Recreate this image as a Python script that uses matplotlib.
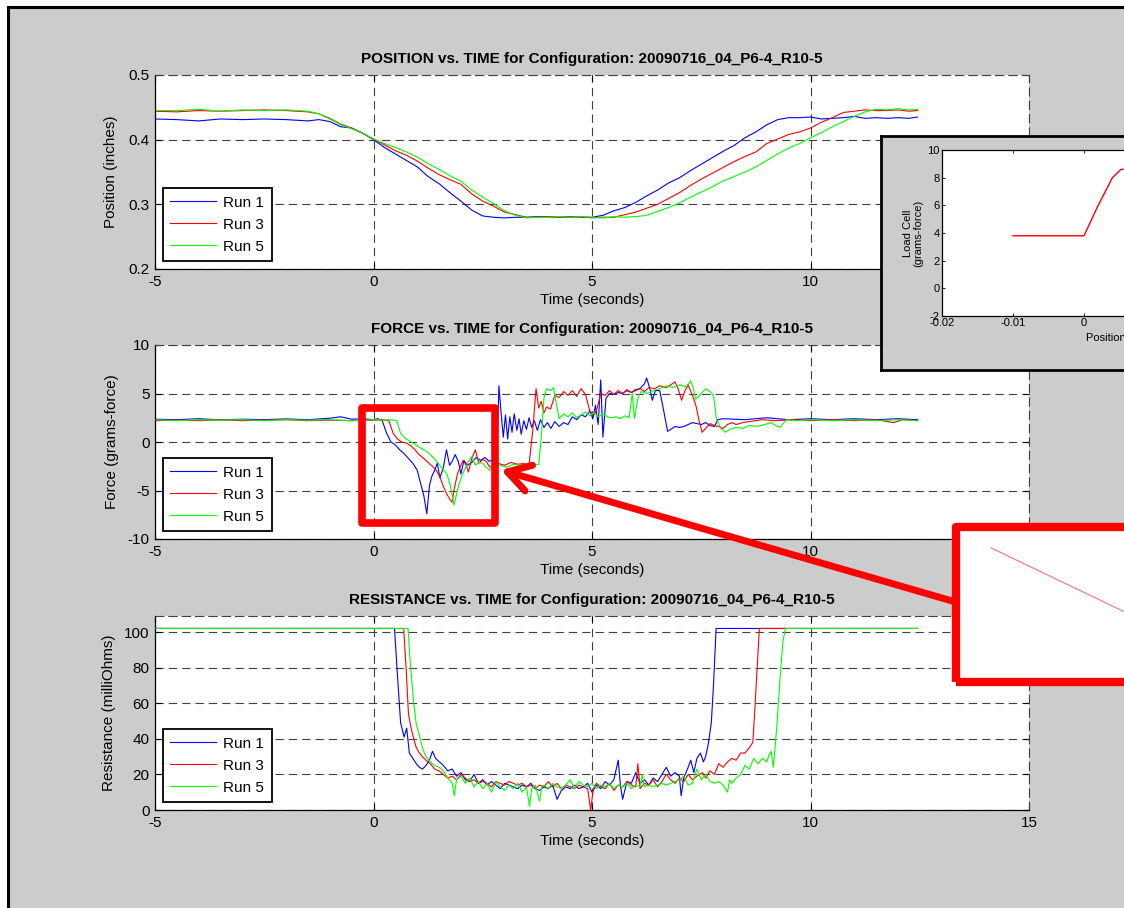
import numpy as np
import matplotlib
matplotlib.use("Agg")
import matplotlib.pyplot as plt
from matplotlib.patches import Rectangle, FancyArrowPatch
from matplotlib.ticker import FormatStrFormatter

plt.rcParams['font.family'] = ['Liberation Sans', 'DejaVu Sans']
plt.rcParams['axes.unicode_minus'] = False
plt.rcParams['lines.scale_dashes'] = False

config = "20090716_04_P6-4_R10-5"
run_labels = ["Run 1", "Run 3", "Run 5"]
run_colors = ["#0000ff", "#ff0000", "#00ff00"]

# ---- position vs time (inches) ----
pos_time = [-5.0, -4.5, -4.0, -3.5, -3.0, -2.5, -2.0, -1.5, -1.25, -1.0, -0.75, -0.5, -0.25,
            0.0, 0.25, 0.5, 0.75, 1.0, 1.25, 1.5, 1.75, 2.0, 2.25, 2.5, 2.75, 3.0, 3.25, 3.5,
            3.75, 4.0, 4.25, 4.5, 4.75, 5.0, 5.25, 5.5, 5.75, 6.0, 6.25, 6.5, 6.75, 7.0, 7.25,
            7.5, 7.75, 8.0, 8.25, 8.5, 8.75, 9.0, 9.25, 9.5, 9.75, 10.0, 10.25, 10.5, 10.75,
            11.0, 11.25, 11.5, 11.75, 12.0, 12.25, 12.45]
pos_run1 = [0.432, 0.431, 0.429, 0.432, 0.431, 0.432, 0.431, 0.429, 0.431, 0.428, 0.420, 0.418, 0.410,
            0.400, 0.388, 0.378, 0.368, 0.358, 0.343, 0.332, 0.318, 0.305, 0.291, 0.282, 0.280, 0.279,
            0.280, 0.280, 0.281, 0.281, 0.280, 0.281, 0.280, 0.280, 0.283, 0.290, 0.295, 0.303, 0.313,
            0.322, 0.333, 0.341, 0.352, 0.362, 0.372, 0.382, 0.391, 0.403, 0.412, 0.423, 0.431, 0.434,
            0.434, 0.435, 0.432, 0.433, 0.434, 0.436, 0.433, 0.434, 0.433, 0.434, 0.433, 0.435]
pos_run3 = [0.444, 0.443, 0.445, 0.444, 0.445, 0.446, 0.445, 0.443, 0.440, 0.433, 0.424, 0.418, 0.410,
            0.401, 0.392, 0.383, 0.376, 0.367, 0.356, 0.346, 0.338, 0.331, 0.316, 0.305, 0.297, 0.288,
            0.284, 0.280, 0.280, 0.281, 0.280, 0.280, 0.281, 0.279, 0.280, 0.280, 0.284, 0.288, 0.294,
            0.300, 0.309, 0.318, 0.329, 0.339, 0.348, 0.357, 0.366, 0.374, 0.381, 0.394, 0.401, 0.408,
            0.412, 0.418, 0.427, 0.434, 0.442, 0.444, 0.446, 0.445, 0.445, 0.446, 0.444, 0.445]
pos_run5 = [0.445, 0.445, 0.447, 0.444, 0.446, 0.445, 0.446, 0.444, 0.440, 0.432, 0.423, 0.417, 0.410,
            0.401, 0.394, 0.388, 0.381, 0.373, 0.363, 0.354, 0.344, 0.336, 0.322, 0.311, 0.301, 0.290,
            0.283, 0.279, 0.280, 0.280, 0.281, 0.280, 0.281, 0.280, 0.279, 0.281, 0.280, 0.281, 0.283,
            0.289, 0.295, 0.302, 0.311, 0.319, 0.327, 0.336, 0.343, 0.350, 0.358, 0.368, 0.378, 0.387,
            0.394, 0.403, 0.411, 0.420, 0.428, 0.436, 0.443, 0.447, 0.446, 0.448, 0.446, 0.447]

# ---- force vs time (grams-force) ----
force_t1 = [-5.0, -4.5, -4.0, -3.5, -3.0, -2.5, -2.0, -1.5, -1.0, -0.75, -0.5, -0.25, 0.0, 0.1, 0.2,
            0.3, 0.4, 0.5, 0.6, 0.7, 0.8, 0.9, 1.0, 1.08, 1.15, 1.22, 1.28, 1.33, 1.4, 1.46, 1.52,
            1.6, 1.67, 1.74, 1.8, 1.87, 1.94, 2.0, 2.07, 2.15, 2.25, 2.35, 2.45, 2.55, 2.65, 2.75,
            2.82, 2.87, 2.92, 2.97, 3.02, 3.07, 3.12, 3.17, 3.22, 3.28, 3.33, 3.38, 3.44, 3.5, 3.56,
            3.62, 3.68, 3.75, 3.82, 3.9, 3.98, 4.06, 4.15, 4.25, 4.35, 4.45, 4.55, 4.65, 4.75, 4.85,
            4.95, 5.02, 5.08, 5.14, 5.2, 5.25, 5.32, 5.4, 5.5, 5.6, 5.7, 5.8, 5.9, 6.0, 6.1, 6.2,
            6.25, 6.33, 6.38, 6.45, 6.55, 6.65, 6.73, 6.8, 6.9, 7.0, 7.1, 7.2, 7.3, 7.4, 7.5, 7.6,
            7.7, 7.8, 7.88, 8.0, 8.5, 9.0, 9.5, 10.0, 10.5, 11.0, 11.5, 12.0, 12.45]
force_run1 = [2.35, 2.30, 2.40, 2.28, 2.35, 2.30, 2.38, 2.30, 2.45, 2.6, 2.35, 2.4, 2.3, 2.4, 2.2,
              0.9, 0.0, -0.3, -0.8, -1.2, -1.7, -2.2, -2.9, -4.3, -5.5, -7.4, -4.5, -3.6, -2.9, -2.2, -3.7,
              -2.6, -0.8, -2.4, -2.0, -1.3, -2.0, -3.3, -1.9, -2.4, -2.1, -1.6, -1.9, -1.6, -2.0, -1.8,
              -1.9, 5.8, 3.0, 0.5, 2.8, 0.3, 2.6, 1.0, 2.9, 1.2, 2.4, 0.8, 2.2, 1.3, 2.5,
              1.5, 2.2, 1.2, 2.3, 1.5, 2.0, 1.4, 2.1, 1.6, 2.0, 1.8, 2.6, 2.3, 2.8, 2.6,
              3.2, 2.4, 3.8, 1.8, 6.4, 0.5, 4.5, 5.0, 4.9, 5.1, 5.0, 5.3, 5.1, 5.4, 5.5, 6.0,
              6.6, 5.4, 4.3, 5.3, 5.3, 3.0, 1.1, 1.3, 1.6, 1.5, 1.6, 1.8, 2.0, 1.9, 1.8, 2.0,
              1.7, 1.6, 2.3, 2.4, 2.3, 2.5, 2.3, 2.4, 2.3, 2.4, 2.3, 2.4, 2.3]
force_t3 = [-5.0, -4.5, -4.0, -3.5, -3.0, -2.5, -2.0, -1.5, -1.0, -0.5, 0.0, 0.2, 0.35, 0.45, 0.55,
            0.65, 0.75, 0.86, 0.95, 1.02, 1.15, 1.27, 1.35, 1.43, 1.52, 1.6, 1.68, 1.76, 1.8, 1.84,
            1.92, 2.0, 2.05, 2.12, 2.17, 2.25, 2.33, 2.41, 2.5, 2.58, 2.66, 2.74, 2.85, 3.0, 3.15,
            3.3, 3.45, 3.56, 3.64, 3.72, 3.78, 3.84, 3.9, 3.96, 4.05, 4.15, 4.25, 4.35, 4.45, 4.55,
            4.65, 4.75, 4.85, 4.95, 5.05, 5.12, 5.2, 5.3, 5.4, 5.5, 5.6, 5.7, 5.8, 5.9, 6.0, 6.1,
            6.2, 6.3, 6.43, 6.55, 6.7, 6.8, 6.9, 6.97, 7.05, 7.12, 7.2, 7.3, 7.38, 7.45, 7.52, 7.6,
            7.7, 7.8, 7.9, 8.0, 8.1, 8.2, 8.3, 8.45, 8.6, 8.75, 8.9, 9.2, 9.6, 10.0, 10.5, 11.0,
            11.5, 11.9, 12.1, 12.45]
force_run3 = [2.2, 2.25, 2.2, 2.3, 2.2, 2.25, 2.3, 2.2, 2.25, 2.2, 2.25, 2.3, 2.2, 0.9, 0.3,
              0.0, -0.1, -0.4, -0.8, -1.2, -1.7, -2.2, -2.5, -2.9, -3.6, -4.6, -5.4, -6.0, -6.2, -5.0,
              -3.3, -2.4, -1.9, -2.4, -3.1, -1.7, -0.8, -2.2, -1.8, -2.0, -2.6, -2.5, -2.2, -2.4, -2.1,
              -2.3, -2.2, -2.3, 1.0, 5.5, 3.5, 4.2, 3.0, 3.6, 3.4, 4.8, 4.6, 5.2, 4.8, 5.3,
              4.7, 5.5, 4.9, 3.2, 2.8, 3.5, 5.0, 4.8, 5.3, 4.9, 5.3, 5.0, 5.4, 5.1, 5.3, 5.5,
              5.2, 5.6, 5.5, 5.8, 5.6, 5.9, 6.2, 5.5, 4.3, 5.2, 5.9, 4.8, 3.7, 2.2, 1.0, 1.4,
              1.9, 1.7, 1.6, 1.4, 1.8, 2.0, 1.8, 2.0, 2.1, 2.2, 2.3, 2.2, 2.3, 2.2, 2.3, 2.2,
              2.3, 2.0, 2.3, 2.2]
force_t5 = [-5.0, -4.5, -4.0, -3.5, -3.0, -2.5, -2.0, -1.5, -1.0, -0.5, 0.0, 0.2, 0.4, 0.53, 0.62,
            0.72, 0.86, 1.0, 1.19, 1.3, 1.43, 1.55, 1.68, 1.76, 1.84, 1.9, 1.96, 2.03, 2.09, 2.17,
            2.25, 2.33, 2.42, 2.5, 2.58, 2.66, 2.75, 2.9, 3.05, 3.2, 3.35, 3.5, 3.65, 3.78, 3.84,
            3.9, 3.96, 4.05, 4.12, 4.18, 4.25, 4.35, 4.45, 4.55, 4.65, 4.75, 4.85, 4.95, 5.05, 5.15,
            5.25, 5.35, 5.45, 5.55, 5.65, 5.75, 5.85, 5.92, 5.97, 6.05, 6.12, 6.25, 6.4, 6.55, 6.7,
            6.85, 7.0, 7.15, 7.26, 7.32, 7.37, 7.5, 7.6, 7.7, 7.78, 7.85, 7.95, 8.05, 8.15, 8.3,
            8.45, 8.6, 8.78, 8.95, 9.1, 9.2, 9.3, 9.45, 9.7, 10.0, 10.5, 11.0, 11.5, 12.0, 12.45]
force_run5 = [2.3, 2.2, 2.3, 2.25, 2.3, 2.2, 2.3, 2.25, 2.3, 2.2, 2.3, 2.25, 2.3, 2.2, 0.9,
              0.4, 0.0, -0.4, -0.9, -1.3, -1.9, -2.6, -3.3, -4.5, -6.5, -5.4, -4.3, -3.4, -2.8, -2.0,
              -1.5, -2.4, -2.1, -2.2, -2.6, -2.9, -2.5, -2.4, -2.6, -2.3, -2.4, -2.2, -2.4, -2.3, 0.5,
              4.5, 5.5, 5.3, 5.6, 4.0, 2.4, 2.9, 2.6, 3.0, 2.5, 2.8, 3.1, 2.7, 3.0, 2.6,
              2.9, 2.6, 2.5, 2.6, 2.4, 2.7, 2.5, 5.0, 2.4, 4.5, 5.2, 5.0, 5.3, 5.5, 5.8,
              5.6, 5.9, 5.7, 6.3, 5.5, 4.4, 5.0, 5.5, 5.2, 4.8, 2.3, 1.4, 1.0, 1.3, 1.5,
              1.4, 1.7, 1.6, 1.8, 2.0, 1.7, 1.5, 2.3, 2.2, 2.3, 2.2, 2.3, 2.2, 2.3, 2.2]

# ---- resistance vs time (milliOhms) ----
res_t1 = [-5.0, 0.48, 0.55, 0.62, 0.7, 0.76, 0.82, 0.9, 0.98, 1.05, 1.12, 1.2, 1.28, 1.35, 1.42,
          1.51, 1.6, 1.7, 1.8, 1.9, 2.0, 2.1, 2.2, 2.3, 2.4, 2.5, 2.6, 2.7, 2.8, 2.9, 3.0, 3.1,
          3.2, 3.3, 3.4, 3.5, 3.6, 3.7, 3.8, 3.9, 4.0, 4.1, 4.2, 4.3, 4.4, 4.5, 4.6, 4.7, 4.8,
          4.9, 5.0, 5.1, 5.2, 5.3, 5.4, 5.5, 5.6, 5.65, 5.7, 5.8, 5.9, 6.0, 6.1, 6.2, 6.3, 6.4,
          6.5, 6.6, 6.7, 6.8, 6.9, 7.0, 7.04, 7.1, 7.2, 7.26, 7.33, 7.4, 7.48, 7.55, 7.6, 7.66,
          7.73, 7.78, 7.84, 12.45]
res_run1 = [102, 102, 75, 49, 41, 46, 32, 29, 26, 24, 23, 25, 28, 33, 29,
            27, 25, 22, 23, 19, 21, 17, 16, 20, 15, 17, 14, 16, 14, 12, 15, 14,
            13, 12, 14, 13, 15, 12, 11, 13, 12, 14, 6, 11, 13, 12, 14, 12, 13,
            15, 10, 14, 12, 16, 14, 17, 28, 14, 6, 16, 15, 21, 15, 17, 14, 18,
            16, 20, 24, 19, 21, 19, 8, 18, 24, 28, 21, 29, 32, 27, 30, 37,
            49, 70, 102, 102]
res_t3 = [-5.0, 0.69, 0.75, 0.8, 0.86, 0.92, 0.98, 1.05, 1.12, 1.2, 1.3, 1.4, 1.5, 1.6, 1.7,
          1.8, 1.9, 2.0, 2.1, 2.2, 2.3, 2.4, 2.5, 2.6, 2.7, 2.8, 2.9, 3.0, 3.1, 3.2, 3.3, 3.4,
          3.5, 3.6, 3.7, 3.8, 3.9, 4.0, 4.1, 4.2, 4.3, 4.4, 4.5, 4.6, 4.7, 4.8, 4.9, 4.97, 5.03,
          5.1, 5.2, 5.3, 5.4, 5.5, 5.6, 5.7, 5.8, 5.9, 6.0, 6.05, 6.1, 6.2, 6.3, 6.4, 6.5, 6.6,
          6.7, 6.8, 6.9, 7.0, 7.1, 7.2, 7.3, 7.4, 7.53, 7.6, 7.7, 7.8, 7.9, 8.0, 8.1, 8.2, 8.3,
          8.4, 8.5, 8.6, 8.68, 8.72, 8.78, 8.83, 12.45]
res_run3 = [102, 102, 78, 54, 46, 40, 35, 32, 30, 28, 26, 23, 22, 20, 18,
            19, 17, 20, 18, 16, 17, 15, 16, 15, 13, 16, 15, 14, 16, 15, 14, 15,
            13, 14, 12, 14, 13, 16, 13, 15, 12, 14, 13, 12, 14, 13, 12, 0, 12,
            15, 13, 12, 15, 11, 14, 13, 16, 14, 13, 26, 12, 15, 14, 17, 13, 16,
            20, 17, 15, 18, 16, 20, 17, 19, 21, 18, 22, 20, 26, 24, 27, 29, 28,
            32, 32, 35, 38, 54, 80, 102, 102]
res_t5 = [-5.0, 0.79, 0.85, 0.92, 0.98, 1.05, 1.13, 1.2, 1.3, 1.4, 1.5, 1.6, 1.7, 1.8, 1.85,
          1.9, 2.0, 2.1, 2.2, 2.3, 2.4, 2.5, 2.6, 2.7, 2.8, 2.9, 3.0, 3.1, 3.2, 3.3, 3.4, 3.5,
          3.57, 3.62, 3.7, 3.8, 3.85, 3.9, 4.0, 4.1, 4.2, 4.3, 4.4, 4.5, 4.6, 4.7, 4.8, 4.9, 5.0,
          5.1, 5.2, 5.3, 5.4, 5.5, 5.6, 5.7, 5.8, 5.9, 6.0, 6.1, 6.15, 6.2, 6.3, 6.4, 6.5, 6.6,
          6.7, 6.8, 6.9, 7.0, 7.1, 7.2, 7.3, 7.4, 7.5, 7.6, 7.7, 7.8, 7.9, 8.0, 8.1, 8.15, 8.2,
          8.3, 8.4, 8.5, 8.6, 8.7, 8.8, 8.9, 9.0, 9.05, 9.1, 9.15, 9.23, 9.3, 9.37, 9.43, 12.45]
res_run5 = [102, 102, 80, 60, 48, 42, 34, 30, 27, 25, 24, 22, 18, 15, 8,
            17, 19, 15, 18, 13, 16, 12, 15, 10, 16, 13, 11, 14, 12, 15, 10, 13,
            2, 12, 14, 5, 13, 14, 12, 15, 13, 12, 14, 17, 12, 16, 14, 13, 15,
            12, 14, 13, 15, 12, 14, 13, 15, 12, 14, 13, 20, 13, 14, 13, 14, 15,
            14, 15, 16, 17, 19, 14, 15, 23, 17, 20, 16, 15, 16, 14, 10, 17, 15,
            18, 20, 25, 23, 29, 26, 29, 27, 31, 33, 24, 47, 73, 95, 102, 102]

# ---- inset: load cell vs position ----
load_pos = [-0.01, -0.005, 0.0, 0.001, 0.002, 0.003, 0.004, 0.0052, 0.006, 0.008, 0.01]
load_force = [3.8, 3.8, 3.8, 4.9, 6.0, 7.0, 8.0, 8.6, 8.6, 8.6, 8.6]

# magnified detail shown in the red call-out box (box-relative units)
detail_x = [0.102, 0.53]
detail_y = [0.865, 0.41]

W, H = 1124, 908
GRAY = '#cccccc'
DASH = (0, (6, 3.6))


def fx(px):
    return px / W


def fy(py):
    return 1 - py / H


def style_axes(ax, ylabel, title, ylab_x):
    ax.set_xlim(-5, 15)
    ax.set_xticks([-5, 0, 5, 10, 15])
    ax.set_facecolor('white')
    ax.grid(True, color='0.25', linestyle=DASH, linewidth=0.8)
    ax.tick_params(direction='in', length=4, width=0.8, labelsize=11,
                   top=True, right=True, pad=4, colors='black')
    for side in ['left', 'bottom']:
        ax.spines[side].set_linewidth(0.9)
    for side in ['top', 'right']:
        ax.spines[side].set_linestyle(DASH)
        ax.spines[side].set_color('0.25')
        ax.spines[side].set_linewidth(0.8)
    ax.set_title(title, fontsize=11, fontweight='bold', pad=8.5)
    ax.set_xlabel("Time (seconds)", fontsize=11)
    ax.xaxis.set_label_coords(0.5, -0.125)
    ax.set_ylabel(ylabel, fontsize=11)
    ax.yaxis.set_label_coords(ylab_x, 0.5)
    ax.yaxis.set_major_formatter(FormatStrFormatter('%g'))
    leg = ax.legend(loc='lower left', fontsize=11, frameon=True, fancybox=False,
                    edgecolor='black', framealpha=1, handlelength=3,
                    handletextpad=0.45, borderpad=0.5, borderaxespad=0.5,
                    labelspacing=0.52)
    leg.get_frame().set_linewidth(1.3)


fig = plt.figure(figsize=(W / 100, H / 100), dpi=100, facecolor='white')
fig.add_artist(Rectangle((fx(7.5), fy(1000)), (1300 - 7.5) / W, (1000 - 7.5) / H,
                         transform=fig.transFigure, facecolor=GRAY, edgecolor='black',
                         lw=2.2, zorder=-1))

left, width, height = fx(155), 874 / W, 194 / H

ax1 = fig.add_axes([left, fy(269), width, height])
for vals, lab, col in zip([pos_run1, pos_run3, pos_run5], run_labels, run_colors):
    ax1.plot(pos_time, vals, color=col, lw=0.8, label=lab)
ax1.set_ylim(0.2, 0.5)
ax1.set_yticks([0.2, 0.3, 0.4, 0.5])
style_axes(ax1, "Position (inches)", "POSITION vs. TIME for Configuration: " + config, -0.042)

ax2 = fig.add_axes([left, fy(539), width, height])
for t, vals, lab, col in zip([force_t1, force_t3, force_t5], [force_run1, force_run3, force_run5],
                             run_labels, run_colors):
    ax2.plot(t, vals, color=col, lw=0.8, label=lab)
ax2.set_ylim(-10, 10)
ax2.set_yticks([-10, -5, 0, 5, 10])
style_axes(ax2, "Force (grams-force)", "FORCE vs. TIME for Configuration: " + config, -0.041)

ax3 = fig.add_axes([left, fy(810), width, height])
for t, vals, lab, col in zip([res_t1, res_t3, res_t5], [res_run1, res_run3, res_run5],
                             run_labels, run_colors):
    ax3.plot(t, vals, color=col, lw=0.8, label=lab)
ax3.set_ylim(0, 109)
ax3.set_yticks([0, 20, 40, 60, 80, 100])
style_axes(ax3, "Resistance (milliOhms)", "RESISTANCE vs. TIME for Configuration: " + config, -0.045)

# inset panel with load cell plot
panel = fig.add_axes([fx(881), fy(370), (1300 - 881) / W, (370 - 136) / H], zorder=5)
panel.set_facecolor(GRAY)
panel.set_xticks([])
panel.set_yticks([])
for s in panel.spines.values():
    s.set_linewidth(2)
    s.set_color('black')

inset = fig.add_axes([fx(942), fy(316), 355 / W, 166 / H], zorder=6)
inset.plot(load_pos, load_force, color='red', lw=1)
inset.set_xlim(-0.02, 0.03)
inset.set_ylim(-2, 10)
inset.set_xticks([-0.02, -0.01, 0, 0.01, 0.02, 0.03])
inset.set_yticks([-2, 0, 2, 4, 6, 8, 10])
inset.xaxis.set_major_formatter(FormatStrFormatter('%g'))
inset.tick_params(direction='in', length=2, width=0.6, labelsize=8, top=True, right=True, pad=1.5)
inset.set_xlabel("Position (inches)", fontsize=8, labelpad=2)
inset.xaxis.set_label_coords(0.5 + 8 / 355, -0.1)
inset.set_ylabel("Load Cell\n(grams-force)", fontsize=8, linespacing=1.0, labelpad=3)
for s in inset.spines.values():
    s.set_linewidth(0.9)

# highlight box and arrow on the force plot
fig.add_artist(Rectangle((fx(362), fy(523)), (494.7 - 362) / W, (523 - 408) / H,
                         transform=fig.transFigure, fill=False, edgecolor='red',
                         lw=5.5, joinstyle='round', zorder=3))
fig.add_artist(FancyArrowPatch(posA=(fx(990), fy(612)), posB=(fx(501), fy(470)),
                               transform=fig.transFigure,
                               arrowstyle='->,head_length=0.4,head_width=0.24',
                               mutation_scale=40, lw=5, color='red',
                               shrinkA=0, shrinkB=0, zorder=3))

# call-out box with magnified detail
detail = fig.add_axes([fx(956), fy(682), (1300 - 956) / W, (682 - 527) / H], zorder=7)
detail.set_facecolor('white')
detail.set_xticks([])
detail.set_yticks([])
for s in detail.spines.values():
    s.set_visible(False)
detail.set_xlim(0, 1)
detail.set_ylim(0, 1)
detail.plot(detail_x, detail_y, color='#ff7070', lw=0.8)
fig.add_artist(Rectangle((fx(956), fy(682)), (1300 - 956) / W, (682 - 527) / H,
                         transform=fig.transFigure, fill=False, edgecolor='red',
                         lw=6, joinstyle='round', zorder=8))

fig.savefig("out.png", dpi=100, facecolor=fig.get_facecolor())
